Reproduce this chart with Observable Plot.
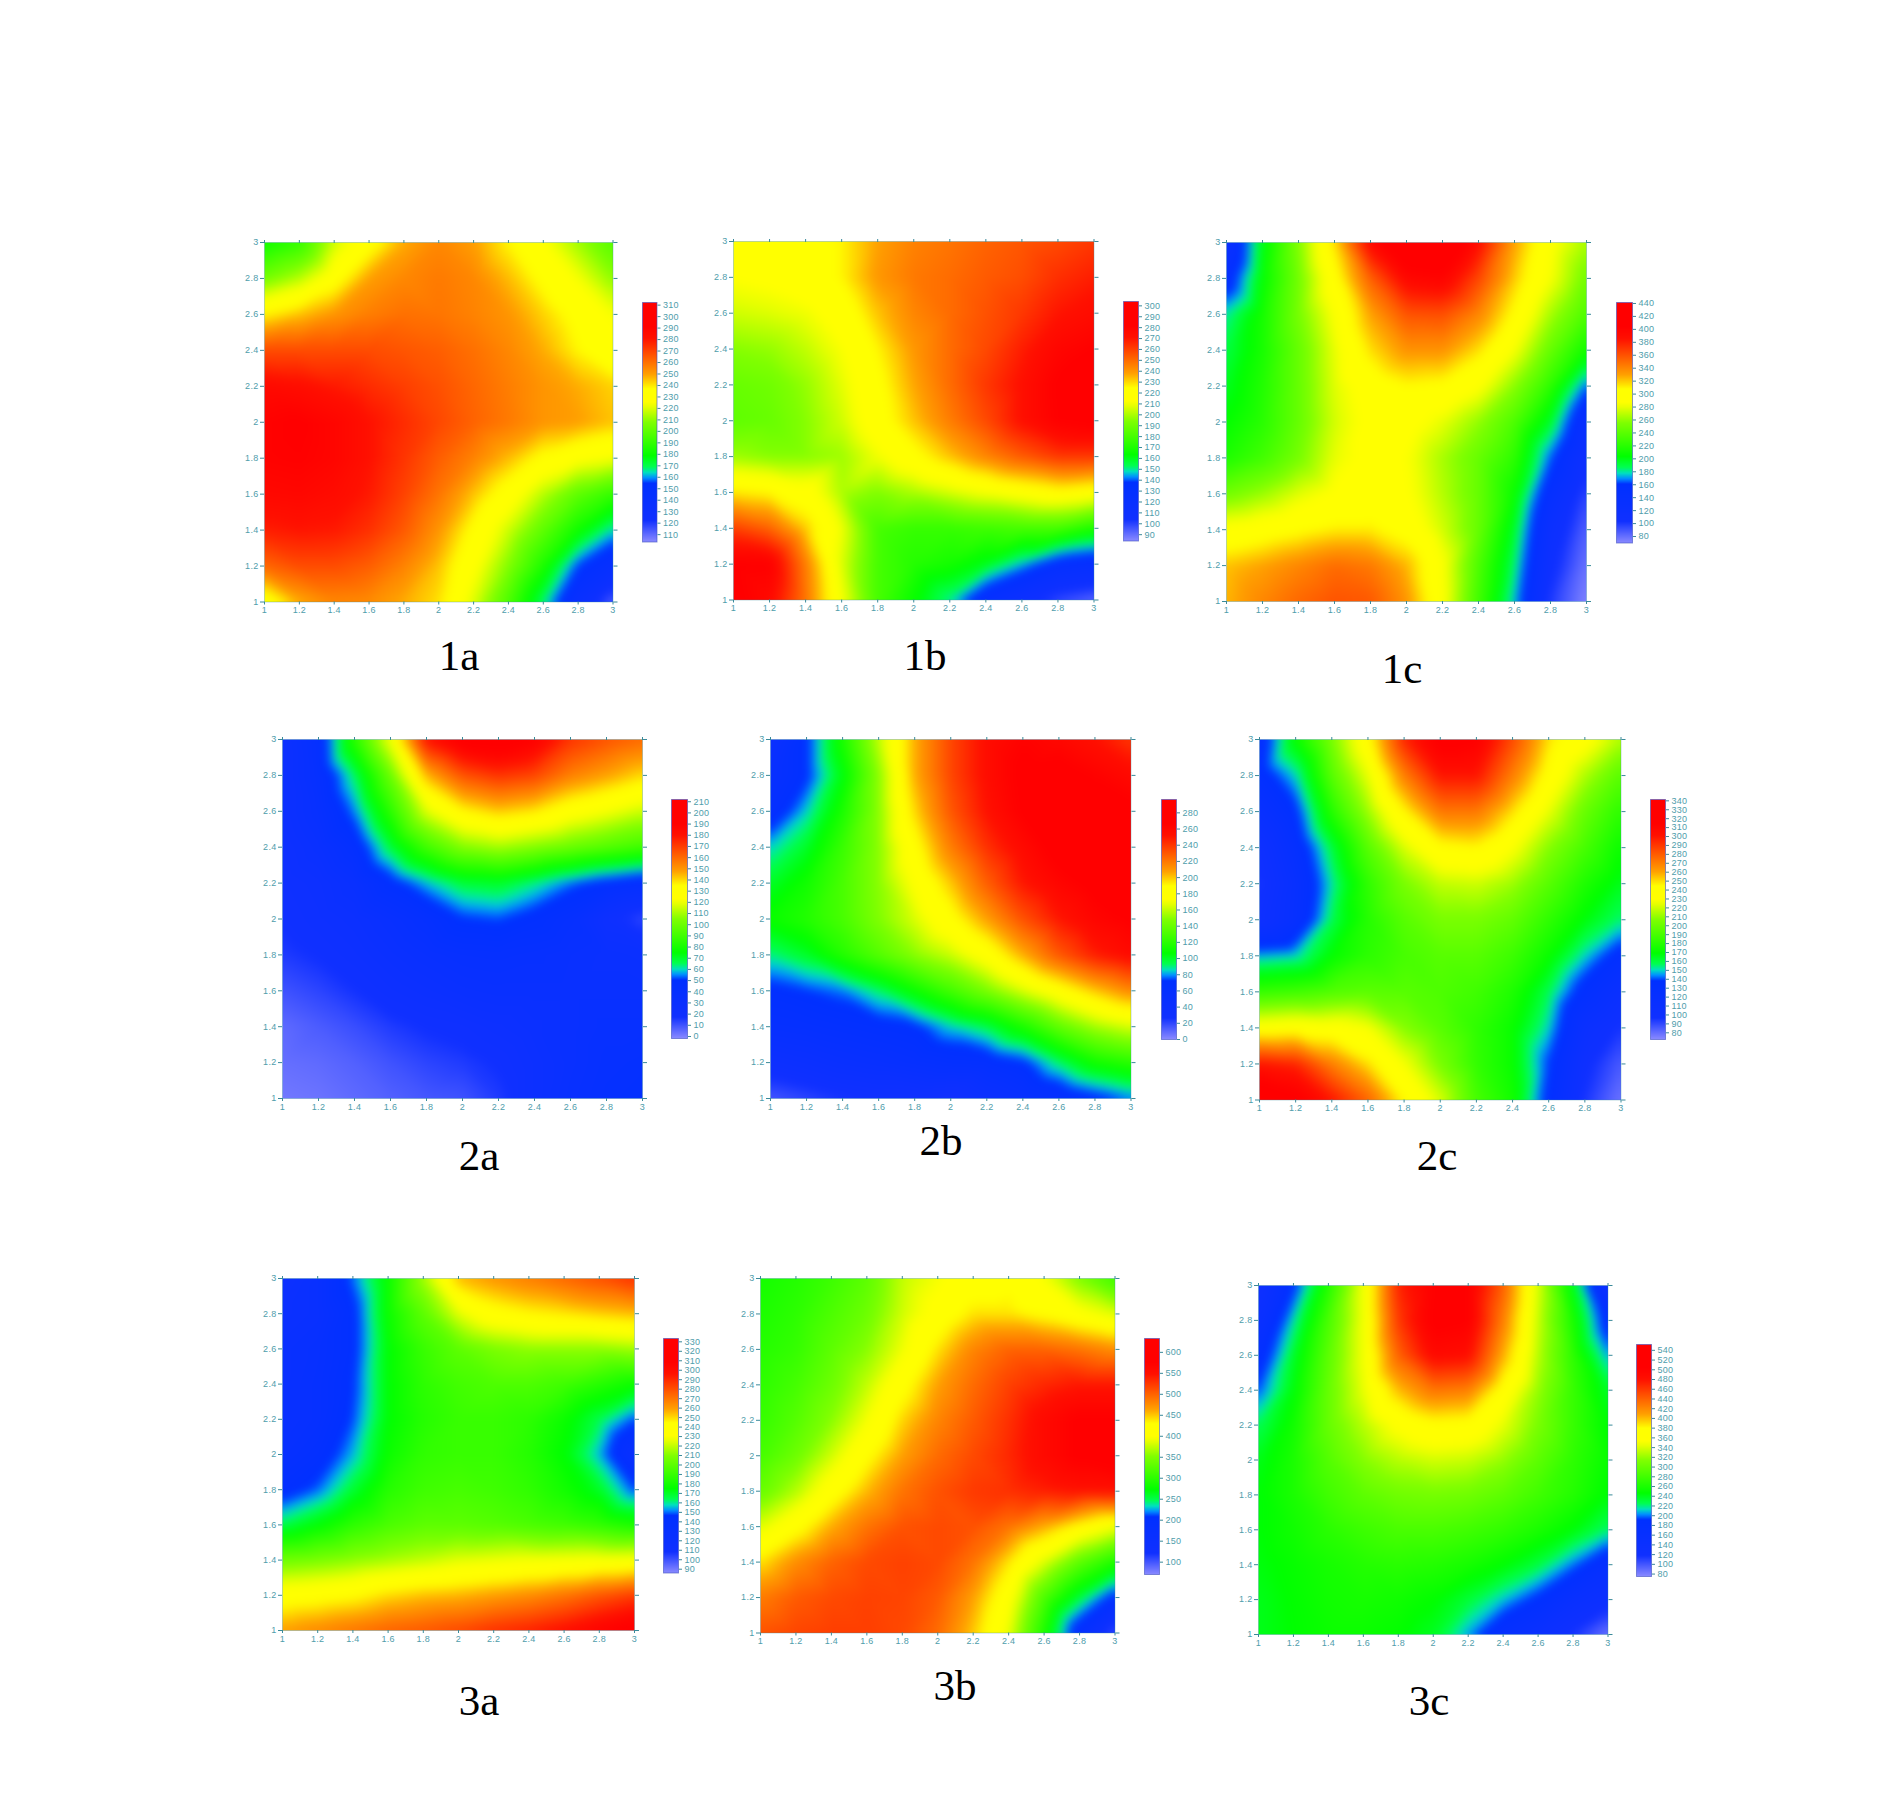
<!DOCTYPE html>
<html><head><meta charset="utf-8">
<script src="https://cdn.jsdelivr.net/npm/d3@7"></script>
<script src="https://cdn.jsdelivr.net/npm/@observablehq/plot@0.6"></script>
<style>
html,body{margin:0;background:#fff}
#page{position:relative;width:1878px;height:1798px;overflow:hidden;background:#fff}
#page svg{position:absolute;max-width:none;background:transparent}
.cap{position:absolute;transform:translate(-50%,-50%);font:43px "Liberation Serif",serif;color:#000;line-height:1;white-space:nowrap}
</style></head><body><div id="page"></div>
<script>
// axis positions shared by every surface (rows run from y=3 down to y=1)
const axisTicks=[1,1.2,1.4,1.6,1.8,2,2.2,2.4,2.6,2.8,3];
const rowY=[3,2.8,2.6,2.4,2.2,2,1.8,1.6,1.4,1.2,1];
// colour ramp positions along each bar, and its colours
const rampStops=[0,0.09,0.245,0.268,0.29,0.315,0.36,0.5,0.565,0.585,0.64,0.70,0.75,0.8,0.85,0.9,1];
const rampColors=["#8a8aff","#1030ff","#0030ff","#0090ff","#00e0c0","#00ff50","#00ff00","#80ff00","#e8ff00","#ffff00","#ffff00","#ffa000","#ff7000","#ff4000","#ff1000","#ff0000","#ff0000"];

const range1a=[103.6,312.3], ticks1a=[110,120,130,140,150,160,170,180,190,200,210,220,230,240,250,260,270,280,290,300,310];
const grid1a=[
[182,190,218,232,248,255,250,238,226,212,198],
[205,215,232,250,255,258,255,246,235,224,210],
[238,245,252,257,260,259,256,252,243,234,224],
[268,268,268,268,266,264,260,255,248,238,228],
[285,283,279,275,271,267,262,257,252,248,243],
[290,292,288,281,275,269,263,258,252,250,245],
[290,291,288,281,273,264,256,246,235,228,224],
[286,287,284,279,270,259,245,232,215,200,190],
[278,280,279,274,265,252,235,218,200,182,164],
[262,268,268,264,256,245,228,208,185,155,140],
[228,248,255,254,248,241,220,196,168,135,112]];

const range1b=[84.2,304], ticks1b=[90,100,110,120,130,140,150,160,170,180,190,200,210,220,230,240,250,260,270,280,290,300];
const grid1b=[
[222,222,224,226,238,245,248,252,255,258,262],
[213,215,220,226,240,247,250,254,257,264,268],
[205,207,210,218,233,244,250,256,262,270,274],
[195,197,203,212,226,240,250,258,268,278,282],
[188,190,197,208,222,237,250,262,272,283,288],
[186,188,195,205,220,233,246,258,272,282,285],
[198,195,195,198,210,222,233,244,254,262,262],
[228,225,218,200,194,200,206,212,217,222,218],
[260,252,232,210,180,176,176,178,180,180,170],
[283,282,246,207,180,172,168,160,146,130,125],
[285,276,248,212,180,165,150,125,110,98,92]];

const range1c=[70,441.5], ticks1c=[80,100,120,140,160,180,200,220,240,260,280,300,320,340,360,380,400,420,440];
const grid1c=[
[120,200,255,315,395,430,430,390,330,290,265],
[145,205,250,300,355,395,400,365,320,285,250],
[180,212,252,287,330,360,362,340,305,265,235],
[190,213,245,280,315,335,335,315,285,245,210],
[197,217,245,278,297,308,305,290,258,222,165],
[205,220,245,275,293,295,280,260,235,195,130],
[215,230,252,280,293,287,265,245,222,165,110],
[250,262,278,290,297,290,268,245,208,140,95],
[292,298,305,312,312,300,275,245,195,120,85],
[322,330,340,350,345,325,288,235,185,110,78],
[325,340,352,360,358,335,290,230,175,100,72]];

const range2a=[-1.8,212], ticks2a=[0,10,20,30,40,50,60,70,80,90,100,110,120,130,140,150,160,170,180,190,200,210];
const grid2a=[
[25,40,85,122,180,195,198,190,172,165,160],
[25,38,65,100,145,165,172,168,155,148,140],
[25,35,55,85,118,135,142,138,128,122,115],
[22,30,42,68,90,105,110,105,100,95,90],
[20,24,32,46,58,68,70,63,54,46,40],
[18,22,26,33,40,50,52,46,38,22,12],
[15,18,22,28,33,37,38,36,33,30,28],
[10,13,17,22,26,30,32,32,32,32,32],
[5,8,11,15,18,20,24,28,32,36,36],
[4,5,7,10,13,15,18,25,32,38,40],
[2,3,5,7,9,10,15,25,34,40,44]];

const range2b=[0,296.5], ticks2b=[0,20,40,60,80,100,120,140,160,180,200,220,240,260,280];
const grid2b=[
[40,70,115,160,205,235,255,265,260,252,240],
[50,70,105,150,205,235,255,270,272,265,258],
[60,85,115,150,197,230,252,268,275,272,270],
[85,100,125,150,185,218,242,258,272,274,274],
[100,112,130,150,175,200,228,250,262,270,272],
[110,118,130,148,165,185,208,232,250,262,268],
[90,100,118,134,150,162,180,205,230,248,258],
[68,73,78,92,110,128,146,165,182,200,215],
[55,58,62,66,70,85,95,115,138,155,165],
[35,40,46,50,55,60,62,70,92,112,120],
[15,20,25,28,28,25,40,50,58,68,78]];

const range2c=[72.5,341.5], ticks2c=[80,90,100,110,120,130,140,150,160,170,180,190,200,210,220,230,240,250,260,270,280,290,300,310,320,330,340];
const grid2c=[
[125,172,205,240,295,320,315,285,250,235,215],
[130,150,195,225,270,300,300,270,240,215,195],
[115,135,180,212,245,272,272,250,225,200,182],
[100,125,160,195,222,242,245,230,208,190,172],
[95,118,152,183,205,218,220,212,195,178,165],
[100,120,158,180,195,205,205,198,183,168,155],
[147,150,170,182,190,195,195,187,172,150,130],
[185,188,193,196,195,192,188,178,158,130,110],
[235,238,235,228,208,195,183,172,150,110,95],
[300,295,270,250,228,205,184,172,138,100,85],
[330,320,300,278,245,222,190,175,132,95,78]];

const range3a=[86,333.5], ticks3a=[90,100,110,120,130,140,150,160,170,180,190,200,210,220,230,240,250,260,270,280,290,300,310,320,330];
const grid3a=[
[115,125,150,178,215,255,262,268,274,280,288],
[120,125,142,178,200,225,240,245,248,252,255],
[125,130,142,175,190,200,208,212,212,212,215],
[125,132,145,175,187,193,196,196,192,185,178],
[125,132,148,175,185,190,190,187,178,165,148],
[130,138,155,178,188,190,190,185,175,155,125],
[140,150,168,185,192,194,192,188,180,170,148],
[165,175,187,195,200,200,198,195,192,188,182],
[205,208,212,216,220,225,227,229,230,231,232],
[238,240,243,250,254,256,260,264,270,278,285],
[260,265,270,275,278,282,288,292,298,306,314]];

const range3b=[70.6,633], ticks3b=[100,150,200,250,300,350,400,450,500,550,600];
const grid3b=[
[285,295,310,330,375,395,415,425,395,350,310],
[290,300,320,340,380,410,440,440,425,405,385],
[295,305,330,355,392,440,480,500,500,490,475],
[300,315,340,375,420,465,495,520,535,545,545],
[305,325,355,395,445,480,505,530,560,580,580],
[315,340,380,425,465,495,515,535,560,580,590],
[335,370,415,455,490,510,525,530,540,548,550],
[385,420,460,490,510,515,510,490,460,425,395],
[440,475,500,515,520,515,490,440,385,330,290],
[485,505,515,520,518,505,465,410,320,255,195],
[510,518,522,522,516,495,450,390,290,180,100]];

const range3c=[75,552], ticks3c=[80,100,120,140,160,180,200,220,240,260,280,300,320,340,360,380,400,420,440,460,480,500,520,540];
const grid3c=[
[120,185,265,350,470,505,505,440,340,240,130],
[140,215,285,350,460,510,505,425,335,260,175],
[170,235,295,350,440,490,485,405,330,270,205],
[195,245,300,345,400,430,425,370,320,275,235],
[225,255,300,330,358,375,372,345,310,275,245],
[240,260,290,315,330,338,335,320,295,270,250],
[245,260,280,295,305,308,305,295,280,265,245],
[245,255,268,278,285,285,280,272,260,245,222],
[243,250,258,265,268,265,258,247,230,200,165],
[240,248,255,258,255,248,232,210,185,150,130],
[240,247,252,252,248,238,205,165,140,115,85]];

// layout: [surface left, right, top, bottom, bar left, right, top, bottom]
const panels=[
{name:"1a",grid:grid1a,range:range1a,ticks:ticks1a,box:[264,612.5,241.5,601,642,656.5,301.5,541],cap:[459,655]},
{name:"1b",grid:grid1b,range:range1b,ticks:ticks1b,box:[733,1093.5,240.5,599,1123,1138,300.5,540],cap:[925,655]},
{name:"1c",grid:grid1c,range:range1c,ticks:ticks1c,box:[1226,1586,242,601,1616,1632,301.5,542],cap:[1402,668]},
{name:"2a",grid:grid2a,range:range2a,ticks:ticks2a,box:[281.5,641.5,739,1098,671,687,799,1038],cap:[479,1155]},
{name:"2b",grid:grid2b,range:range2b,ticks:ticks2b,box:[770,1130.5,739,1098,1161,1176,799,1039],cap:[941,1140]},
{name:"2c",grid:grid2c,range:range2c,ticks:ticks2c,box:[1259,1620.5,739,1099.5,1650,1665,799,1039],cap:[1437,1155]},
{name:"3a",grid:grid3a,range:range3a,ticks:ticks3a,box:[281.5,633.5,1278,1630,663,678,1337.5,1572],cap:[479,1700]},
{name:"3b",grid:grid3b,range:range3b,ticks:ticks3b,box:[759.5,1114,1278,1632.5,1143.5,1158.5,1338,1574],cap:[955,1685]},
{name:"3c",grid:grid3c,range:range3c,ticks:ticks3c,box:[1257.5,1607,1285,1634,1636,1651,1344,1576],cap:[1429,1700]}
];

const page=document.getElementById("page");
const teal="#3a8a9a", labelTeal="#4f9dab";
const fmt=d=>String(d);
const colorOf=r=>({type:"linear",clamp:true,domain:rampStops.map(t=>r[0]+t*(r[1]-r[0])),range:rampColors});
const font={fontFamily:"Liberation Sans, sans-serif",fontSize:"9px",letterSpacing:"0.3px"};

function place(svg,left,top){svg.style.left=left+"px";svg.style.top=top+"px";page.appendChild(svg);}

for(const p of panels){
  const [x0,x1,y0,y1,bx0,bx1,by0,by1]=p.box;
  const table=[];
  p.grid.forEach((row,j)=>row.forEach((v,i)=>table.push({x:axisTicks[i],y:rowY[j],v})));
  const mL=30,mR=12,mT=10,mB=22;
  const surface=Plot.plot({
    width:x1-x0+mL+mR,height:y1-y0+mT+mB,marginLeft:mL,marginRight:mR,marginTop:mT,marginBottom:mB,
    style:font,
    x:{domain:[1,3],label:null,axis:null},y:{domain:[1,3],label:null,axis:null},
    color:colorOf(p.range),
    marks:[
      Plot.raster(table,{x:"x",y:"y",fill:"v",x1:1,x2:3,y1:1,y2:3,interpolate:"barycentric",pixelSize:1,blur:4}),
      Plot.frame({stroke:teal,strokeOpacity:0.35}),
      Plot.axisX({anchor:"bottom",ticks:axisTicks,tickFormat:fmt,tickSize:3,tickPadding:2,color:labelTeal,stroke:teal,label:null}),
      Plot.axisX({anchor:"top",ticks:axisTicks,tickSize:3,fill:"none",stroke:teal,label:null}),
      Plot.axisY({anchor:"left",ticks:axisTicks,tickFormat:fmt,tickSize:4,tickPadding:2,color:labelTeal,stroke:teal,label:null}),
      Plot.axisY({anchor:"right",ticks:axisTicks,tickSize:4,fill:"none",stroke:teal,label:null})
    ]
  });
  surface.setAttribute("aria-label","surface "+p.name);
  place(surface,x0-mL,y0-mT);

  const bL=2,bR=34,bT=6,bB=6;
  const bar=Plot.plot({
    width:bx1-bx0+bL+bR,height:by1-by0+bT+bB,marginLeft:bL,marginRight:bR,marginTop:bT,marginBottom:bB,
    style:font,
    x:{domain:[0,1],label:null,axis:null},y:{domain:p.range,label:null,axis:null},
    color:colorOf(p.range),
    marks:[
      Plot.raster({fill:(x,y)=>y,x1:0,x2:1,y1:p.range[0],y2:p.range[1],pixelSize:1}),
      Plot.frame({stroke:"#4050c0",strokeOpacity:0.6}),
      Plot.axisY({anchor:"right",ticks:p.ticks,tickFormat:fmt,tickSize:3,tickPadding:3,color:labelTeal,stroke:teal,label:null})
    ]
  });
  bar.setAttribute("aria-label","colour bar "+p.name);
  place(bar,bx0-bL,by0-bT);

  const c=document.createElement("div");
  c.className="cap";c.textContent=p.name;
  c.style.left=p.cap[0]+"px";c.style.top=p.cap[1]+"px";
  page.appendChild(c);
}
</script></body></html>
